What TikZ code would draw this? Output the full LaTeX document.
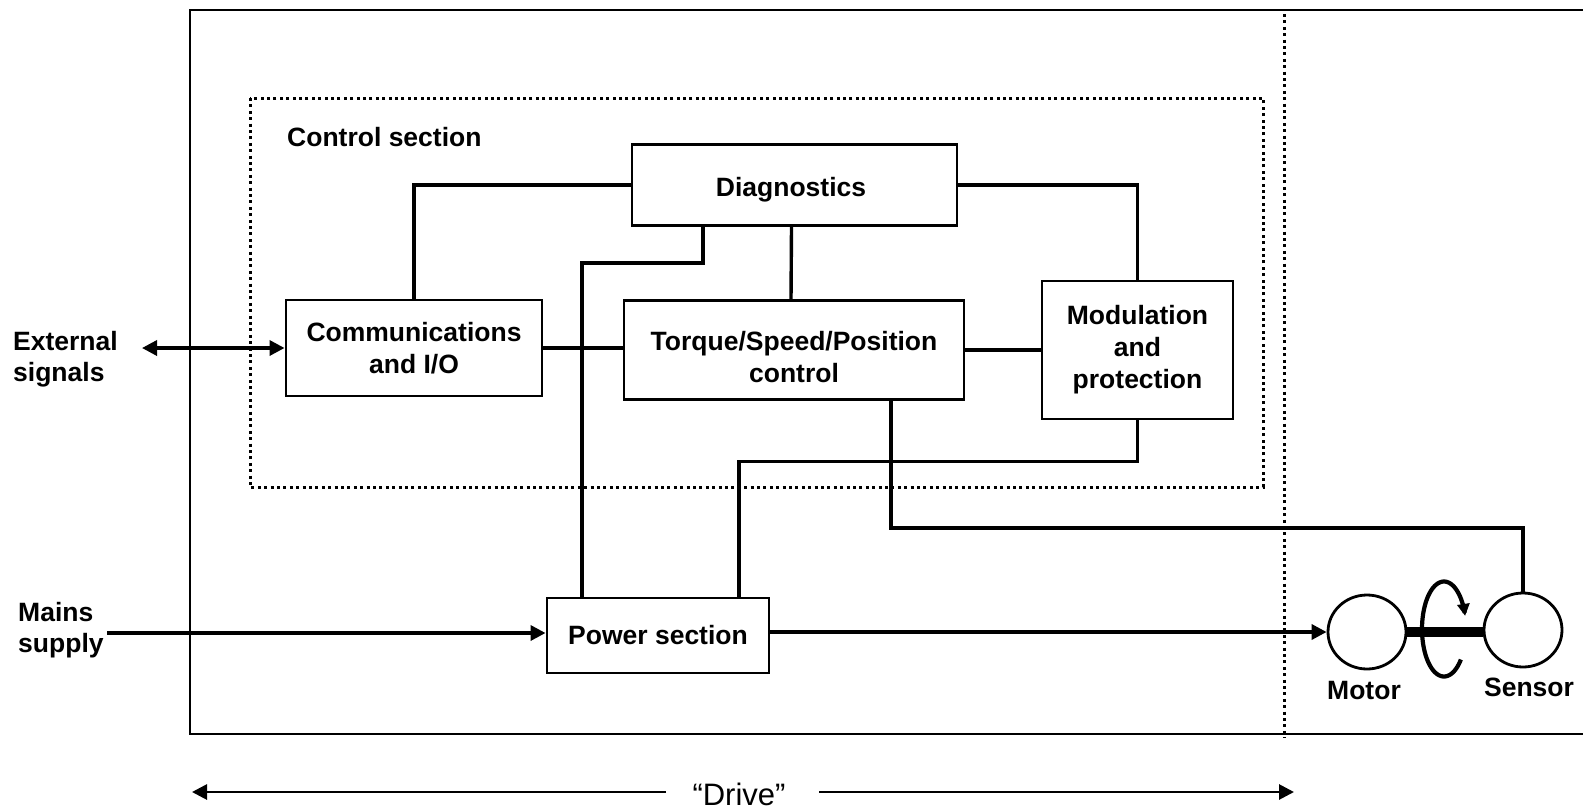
\documentclass[tikz,border=0pt]{standalone}
\usepackage{fontspec}
\setmainfont{Liberation Sans}
\usetikzlibrary{arrows.meta,shapes.geometric,calc}
\begin{document}
\begin{tikzpicture}[x=1pt,y=-1pt,
  box/.style={draw,line width=2.9pt,inner sep=0pt,align=center,font=\bfseries\fontsize{26.5}{32}\selectfont},
  boxtext/.style={inner sep=0pt,align=center,font=\bfseries\fontsize{26.5}{32}\selectfont},
  lbl/.style={inner sep=0pt,align=left,font=\bfseries\fontsize{26.5}{31}\selectfont},
  wire/.style={line width=3.4pt},
  arr/.style={line width=3.4pt,-{Triangle[length=15pt,width=15pt]}},
  thinarr/.style={line width=2.8pt,-{Triangle[length=15pt,width=15pt]}},
  dotline/.style={line width=3pt,dash pattern=on 3pt off 3.4pt},
  wheel/.style={draw,ellipse,line width=2.8pt,inner sep=0pt,minimum width=78pt,minimum height=74pt}
]
\useasboundingbox (0,0) rectangle (1583,809);

% outer drive frame and separators
\draw[line width=2.7pt] (1583,10) -- (190,10) -- (190,734) -- (1583,734);
\draw[dotline] (1284,14) -- (1284,738);
\draw[dotline] (250,98) rectangle (1263,487);
\node[lbl,anchor=base west] (ctrl) at (287,146) {Control section};

% blocks
\node[box,minimum width=325pt,minimum height=81pt] (diag) at (794.5,185) {};
\node[boxtext] (diagt) at (791,190) {Diagnostics};
\node[box,minimum width=256pt,minimum height=96pt] (comms) at (414,348) {Communications\\and I/O};
\node[box,minimum width=340pt,minimum height=99pt] (torque) at (794,350) {};
\node[boxtext] (torquet) at (794,357) {Torque/Speed/Position\\control};
\node[box,minimum width=191pt,minimum height=138pt] (mod) at (1137.5,350) {Modulation\\and\\protection};
\node[box,minimum width=222pt,minimum height=75pt] (power) at (658,635.5) {Power section};
\node[wheel] (motor) at (1367,632) {};
\node[wheel] (sensor) at (1523,630) {};
\node[lbl,anchor=base] (motorlbl) at (1364,699) {Motor};
\node[lbl,anchor=base] (sensorlbl) at (1529,696) {Sensor};

% left labels
\node[lbl,anchor=north west] (ext) at (13,331) {External\\signals};
\node[lbl,anchor=north west] (mainslbl) at (18,602) {Mains\\supply};

% connectors
\draw[wire] (diag.west) -| (comms.north);
\draw[wire] (diag.east) -| (mod.north);
\draw[wire] ([xshift=-3pt]diag.south) -- ([xshift=-3pt]torque.north);
\draw[wire] ([xshift=-91.5pt]diag.south) -- ++(0,36) -| ([xshift=-76pt]power.north);
\draw[wire] (mod.south) -- ++(0,41) -| ([xshift=81pt]power.north);
\draw[wire] ([xshift=97pt]torque.south) -- ++(0,127) -| (sensor.north);
\draw[wire] (comms.east) -- (comms.east -| torque.west);
\draw[wire] (torque.east) -- (mod.west);

% arrows
\coordinate (extend) at (142,348);
\draw[line width=3.4pt,{Triangle[length=15pt,width=15pt]}-{Triangle[length=15pt,width=15pt]}] (extend) -- (comms.west);
\coordinate (mains) at (107,633);
\draw[arr] (mains) -- (mains -| power.west);
\draw[arr] (power.east |- motor.west) -- (motor.west);

% shaft and rotation
\draw[line width=10pt] (motor.east) -- (motor.east -| sensor.west);
\draw[line width=4.2pt,-{Triangle[length=12pt,width=12pt]}] plot[domain=40:344,samples=80] ({1444+22*cos(\x)},{629+47.5*sin(\x)});

% "Drive" span
\node[inner sep=0pt,anchor=base,font=\fontsize{31}{36}\selectfont] (drive) at (739,805) {“Drive”};
\coordinate (dls) at (666,792);
\coordinate (dl) at (192,792);
\coordinate (drs) at (819,792);
\coordinate (dr) at (1294,792);
\draw[thinarr] (dls) -- (dl);
\draw[thinarr] (drs) -- (dr);
\end{tikzpicture}
\end{document}
